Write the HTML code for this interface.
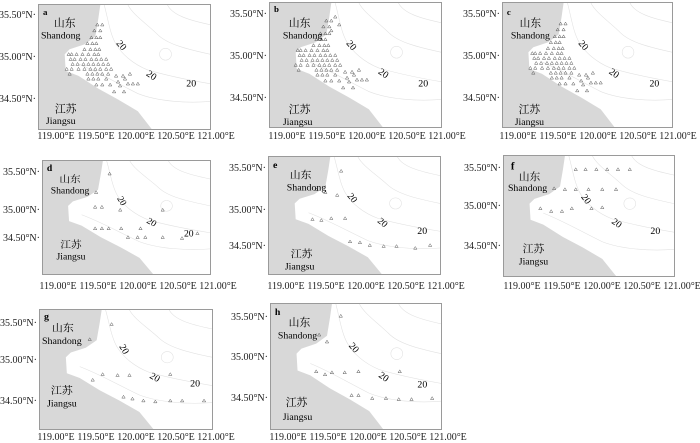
<!DOCTYPE html>
<html><head><meta charset="utf-8"><style>
body{margin:0;background:#fff;width:700px;height:442px;overflow:hidden;position:relative;font-family:"Liberation Serif","Noto Serif CJK SC",serif;}
.p{position:absolute;box-sizing:border-box;border:1px solid #9a9a9a;background:#fff;overflow:hidden}
.p svg{position:absolute;left:0;top:0;width:100%;height:100%}
.yl,.xl{position:absolute;font-size:10px;color:#222;white-space:nowrap;line-height:10px}
.yl{text-align:right;width:40px}
.xl{width:44px;text-align:center}
</style></head><body>
<svg width="0" height="0" style="position:absolute">
<defs>
<path id="t" d="M0,-1.6 L1.7,1.3 L-1.7,1.3Z" fill="none" stroke="#555" stroke-width="0.5"/>
<polygon id="land" points="0,0 62,0 60,14 57,32 46,40 31,45 26,50 27,67 40,72 60,85 80,96 100,108 114,126 0,126" fill="#d8d8d8"/>
<g id="cont" fill="none" stroke="#e2e2e2" stroke-width="0.6">
<path d="M66,0 C70,15 72,30 78,40 C84,50 95,60 110,66 C130,72 150,76 173,80"/>
<path d="M90,0 C95,10 110,20 120,30 C130,40 150,45 173,50"/>
<path d="M40,60 C60,68 80,80 100,90 C120,98 150,100 173,98"/>
<path d="M130,0 C135,10 150,15 173,20"/>
<circle cx="128" cy="50" r="6"/>
</g>
<g id="cl">
<use href="#t" x="59" y="20"/><use href="#t" x="64" y="20"/>
<use href="#t" x="56" y="26"/><use href="#t" x="62" y="26"/>
<use href="#t" x="53" y="33"/><use href="#t" x="58" y="33"/><use href="#t" x="62" y="33"/>
<use href="#t" x="49" y="39"/><use href="#t" x="54" y="39"/><use href="#t" x="58" y="39"/>
<use href="#t" x="46" y="45"/><use href="#t" x="52" y="45"/><use href="#t" x="57" y="45"/><use href="#t" x="61" y="45"/>
<use href="#t" x="30" y="50"/><use href="#t" x="33" y="50"/><use href="#t" x="38" y="50"/><use href="#t" x="44" y="50"/><use href="#t" x="50" y="50"/><use href="#t" x="56" y="50"/><use href="#t" x="60" y="50"/>
<use href="#t" x="32" y="55"/><use href="#t" x="36" y="55"/><use href="#t" x="42" y="55"/><use href="#t" x="47" y="55"/><use href="#t" x="53" y="55"/><use href="#t" x="58" y="55"/><use href="#t" x="63" y="55"/><use href="#t" x="68" y="55"/>
<use href="#t" x="34" y="60"/><use href="#t" x="39" y="60"/><use href="#t" x="45" y="60"/><use href="#t" x="50" y="60"/><use href="#t" x="55" y="60"/><use href="#t" x="60" y="60"/><use href="#t" x="65" y="60"/><use href="#t" x="70" y="60"/>
<use href="#t" x="28" y="65"/><use href="#t" x="33" y="65"/><use href="#t" x="40" y="65"/><use href="#t" x="46" y="65"/><use href="#t" x="52" y="65"/><use href="#t" x="57" y="65"/><use href="#t" x="62" y="65"/><use href="#t" x="68" y="65"/><use href="#t" x="73" y="65"/><use href="#t" x="78" y="72"/><use href="#t" x="85" y="72"/>
<use href="#t" x="31" y="70"/><use href="#t" x="49" y="70"/><use href="#t" x="54" y="70"/><use href="#t" x="59" y="70"/><use href="#t" x="64" y="70"/><use href="#t" x="70" y="70"/><use href="#t" x="92" y="70"/>
<use href="#t" x="50" y="75"/><use href="#t" x="55" y="75"/><use href="#t" x="60" y="75"/><use href="#t" x="68" y="75"/><use href="#t" x="80" y="78"/><use href="#t" x="87" y="75"/>
<use href="#t" x="58" y="81"/><use href="#t" x="64" y="81"/><use href="#t" x="72" y="81"/><use href="#t" x="82" y="82"/><use href="#t" x="90" y="80"/><use href="#t" x="95" y="80"/><use href="#t" x="100" y="80"/>
<use href="#t" x="76" y="88"/><use href="#t" x="86" y="88"/>
</g>
</defs></svg>

<!-- panel a -->
<div class="p" style="left:38px;top:4px;width:173px;height:126px"><svg viewBox="0 0 173 126" preserveAspectRatio="none">
<use href="#land"/><use href="#cont"/><use href="#cl"/>
<text x="4" y="10" font-size="9" font-weight="bold">a</text>
<text x="26" y="22" font-size="11" text-anchor="middle" font-family="Noto Serif CJK SC,serif">山东</text>
<text x="22" y="34" font-size="10" text-anchor="middle">Shandong</text>
<text x="27" y="109" font-size="11" text-anchor="middle" font-family="Noto Serif CJK SC,serif">江苏</text>
<text x="22" y="121" font-size="10" text-anchor="middle">Jiangsu</text>
<text x="81" y="43" font-size="10" transform="rotate(50 81 43)" text-anchor="middle">20</text>
<text x="112" y="74" font-size="10" transform="rotate(35 112 74)" text-anchor="middle">20</text>
<text x="154" y="83" font-size="10" text-anchor="middle">20</text>
</svg></div>

<!-- panel b -->
<div class="p" style="left:269px;top:2px;width:173px;height:126px"><svg viewBox="0 0 173 126" preserveAspectRatio="none">
<use href="#land"/><use href="#cont"/><use href="#cl" transform="translate(-2,-2)"/>
<use href="#t" x="66" y="14"/><use href="#t" x="70" y="22"/><use href="#t" x="62" y="28"/>
<text x="4" y="9" font-size="9" font-weight="bold">b</text>
<text x="30" y="24" font-size="11" text-anchor="middle" font-family="Noto Serif CJK SC,serif">山东</text>
<text x="33" y="36" font-size="10" text-anchor="middle">Shandong</text>
<text x="30" y="112" font-size="11" text-anchor="middle" font-family="Noto Serif CJK SC,serif">江苏</text>
<text x="28" y="124" font-size="10" text-anchor="middle">Jiangsu</text>
<text x="80" y="45" font-size="10" transform="rotate(50 80 45)" text-anchor="middle">20</text>
<text x="113" y="74" font-size="10" transform="rotate(35 113 74)" text-anchor="middle">20</text>
<text x="155" y="85" font-size="10" text-anchor="middle">20</text>
</svg></div>

<!-- panel c -->
<div class="p" style="left:502px;top:2px;width:171px;height:126px"><svg viewBox="0 0 173 126" preserveAspectRatio="none">
<use href="#land"/><use href="#cont"/><use href="#cl" transform="translate(0,1)"/>
<text x="4" y="12" font-size="9" font-weight="bold">c</text>
<text x="28" y="24" font-size="11" text-anchor="middle" font-family="Noto Serif CJK SC,serif">山东</text>
<text x="28" y="36" font-size="10" text-anchor="middle">Shandong</text>
<text x="27" y="112" font-size="11" text-anchor="middle" font-family="Noto Serif CJK SC,serif">江苏</text>
<text x="27" y="124" font-size="10" text-anchor="middle">Jiangsu</text>
<text x="80" y="45" font-size="10" transform="rotate(50 80 45)" text-anchor="middle">20</text>
<text x="112" y="74" font-size="10" transform="rotate(35 112 74)" text-anchor="middle">20</text>
<text x="155" y="85" font-size="10" text-anchor="middle">20</text>
</svg></div>

<!-- panel d -->
<div class="p" style="left:42px;top:160px;width:169px;height:115px"><svg viewBox="0 0 173 126" preserveAspectRatio="none">
<use href="#land"/><use href="#cont"/>
<g transform="scale(1,1.09)">
<use href="#t" x="69" y="13"/><use href="#t" x="55" y="32"/><use href="#t" x="54" y="47"/><use href="#t" x="61" y="47"/><use href="#t" x="80" y="50"/><use href="#t" x="54" y="69"/><use href="#t" x="61" y="69"/><use href="#t" x="68" y="69"/><use href="#t" x="81" y="69"/><use href="#t" x="101" y="69"/><use href="#t" x="124" y="50"/><use href="#t" x="160" y="74"/><use href="#t" x="88" y="78"/><use href="#t" x="98" y="78"/><use href="#t" x="106" y="78"/><use href="#t" x="124" y="78"/><use href="#t" x="144" y="79"/>
</g>
<text x="4" y="11" font-size="10" font-weight="bold">d</text>
<text x="28" y="24" font-size="11" text-anchor="middle" font-family="Noto Serif CJK SC,serif">山东</text>
<text x="28" y="36" font-size="10" text-anchor="middle">Shandong</text>
<text x="29" y="97" font-size="11" text-anchor="middle" font-family="Noto Serif CJK SC,serif">江苏</text>
<text x="29" y="110" font-size="10" text-anchor="middle">Jiangsu</text>
<text x="79" y="46" font-size="10" transform="rotate(60 79 46)" text-anchor="middle">20</text>
<text x="111" y="71" font-size="10" transform="rotate(30 111 71)" text-anchor="middle">20</text>
<text x="151" y="84" font-size="10" text-anchor="middle">20</text>
</svg></div>

<!-- panel e -->
<div class="p" style="left:268px;top:156px;width:173px;height:119px"><svg viewBox="0 0 173 126" preserveAspectRatio="none">
<use href="#land"/><use href="#cont"/>
<use href="#t" x="73" y="15"/><use href="#t" x="48" y="35"/><use href="#t" x="57" y="38"/><use href="#t" x="69" y="41"/><use href="#t" x="44" y="67"/><use href="#t" x="53" y="68"/><use href="#t" x="63" y="66"/><use href="#t" x="77" y="66"/><use href="#t" x="82" y="91"/><use href="#t" x="92" y="92"/><use href="#t" x="102" y="95"/><use href="#t" x="116" y="96"/><use href="#t" x="129" y="96"/><use href="#t" x="148" y="98"/><use href="#t" x="163" y="95"/>
<text x="4" y="12" font-size="10" font-weight="bold">e</text>
<text x="32" y="23" font-size="11" text-anchor="middle" font-family="Noto Serif CJK SC,serif">山东</text>
<text x="38" y="36" font-size="10" text-anchor="middle">Shandong</text>
<text x="33" y="108" font-size="11" text-anchor="middle" font-family="Noto Serif CJK SC,serif">江苏</text>
<text x="31" y="121" font-size="10" text-anchor="middle">Jiangsu</text>
<text x="82" y="46" font-size="10" transform="rotate(50 82 46)" text-anchor="middle">20</text>
<text x="113" y="73" font-size="10" transform="rotate(40 113 73)" text-anchor="middle">20</text>
<text x="155" y="83" font-size="10" text-anchor="middle">20</text>
</svg></div>

<!-- panel f -->
<div class="p" style="left:503px;top:155px;width:172px;height:122px"><svg viewBox="0 0 173 126" preserveAspectRatio="none">
<use href="#land"/><use href="#cont"/>
<use href="#t" x="73" y="14"/><use href="#t" x="83" y="14"/><use href="#t" x="94" y="14"/><use href="#t" x="105" y="14"/><use href="#t" x="116" y="14"/><use href="#t" x="128" y="14"/><use href="#t" x="51" y="34"/><use href="#t" x="62" y="35"/><use href="#t" x="73" y="35"/><use href="#t" x="86" y="35"/><use href="#t" x="100" y="35"/><use href="#t" x="114" y="35"/><use href="#t" x="37" y="55"/><use href="#t" x="48" y="58"/><use href="#t" x="59" y="58"/><use href="#t" x="69" y="55"/><use href="#t" x="89" y="55"/><use href="#t" x="100" y="54"/>
<text x="7" y="14" font-size="11" font-weight="bold">f</text>
<text x="26" y="25" font-size="11" text-anchor="middle" font-family="Noto Serif CJK SC,serif">山东</text>
<text x="24" y="37" font-size="10" text-anchor="middle">Shandong</text>
<text x="30" y="101" font-size="11" text-anchor="middle" font-family="Noto Serif CJK SC,serif">江苏</text>
<text x="30" y="114" font-size="10" text-anchor="middle">Jiangsu</text>
<text x="81" y="47" font-size="10" transform="rotate(55 81 47)" text-anchor="middle">20</text>
<text x="113" y="73" font-size="10" transform="rotate(35 113 73)" text-anchor="middle">20</text>
<text x="154" y="82" font-size="10" text-anchor="middle">20</text>
</svg></div>

<!-- panel g -->
<div class="p" style="left:39px;top:309px;width:174px;height:121px"><svg viewBox="0 0 173 126" preserveAspectRatio="none">
<use href="#land"/><use href="#cont"/>
<use href="#t" x="72" y="15"/><use href="#t" x="50" y="31"/><use href="#t" x="53" y="74"/><use href="#t" x="63" y="68"/><use href="#t" x="78" y="69"/><use href="#t" x="90" y="69"/><use href="#t" x="131" y="68"/><use href="#t" x="84" y="92"/><use href="#t" x="93" y="94"/><use href="#t" x="104" y="96"/><use href="#t" x="116" y="97"/><use href="#t" x="131" y="96"/><use href="#t" x="143" y="96"/><use href="#t" x="165" y="96"/>
<text x="4" y="10" font-size="10" font-weight="bold">g</text>
<text x="23" y="23" font-size="11" text-anchor="middle" font-family="Noto Serif CJK SC,serif">山东</text>
<text x="22" y="36" font-size="10" text-anchor="middle">Shandong</text>
<text x="22" y="89" font-size="11" text-anchor="middle" font-family="Noto Serif CJK SC,serif">江苏</text>
<text x="22" y="102" font-size="10" text-anchor="middle">Jiangsu</text>
<text x="82" y="43" font-size="10" transform="rotate(60 82 43)" text-anchor="middle">20</text>
<text x="114" y="74" font-size="10" transform="rotate(30 114 74)" text-anchor="middle">20</text>
<text x="156" y="81" font-size="10" text-anchor="middle">20</text>
</svg></div>

<!-- panel h -->
<div class="p" style="left:270px;top:303px;width:172px;height:127px"><svg viewBox="0 0 173 126" preserveAspectRatio="none">
<use href="#land"/><use href="#cont"/>
<use href="#t" x="71" y="12"/><use href="#t" x="49" y="31"/><use href="#t" x="57" y="38"/><use href="#t" x="46" y="68"/><use href="#t" x="55" y="71"/><use href="#t" x="62" y="69"/><use href="#t" x="75" y="69"/><use href="#t" x="89" y="68"/><use href="#t" x="131" y="68"/><use href="#t" x="82" y="92"/><use href="#t" x="89" y="92"/><use href="#t" x="103" y="95"/><use href="#t" x="117" y="95"/><use href="#t" x="130" y="96"/><use href="#t" x="143" y="96"/><use href="#t" x="164" y="95"/>
<text x="4" y="11" font-size="10" font-weight="bold">h</text>
<text x="29" y="22" font-size="11" text-anchor="middle" font-family="Noto Serif CJK SC,serif">山东</text>
<text x="27" y="35" font-size="10" text-anchor="middle">Shandong</text>
<text x="26" y="103" font-size="11" text-anchor="middle" font-family="Noto Serif CJK SC,serif">江苏</text>
<text x="27" y="117" font-size="10" text-anchor="middle">Jiangsu</text>
<text x="82" y="46" font-size="10" transform="rotate(50 82 46)" text-anchor="middle">20</text>
<text x="113" y="76" font-size="10" transform="rotate(35 113 76)" text-anchor="middle">20</text>
<text x="154" y="84" font-size="10" text-anchor="middle">20</text>
</svg></div>

<!-- y labels -->
<div class="yl" style="left:-4px;top:11px">35.50°N·</div><div class="yl" style="left:-4px;top:53px">35.00°N·</div><div class="yl" style="left:-4px;top:95px">34.50°N·</div>
<div class="yl" style="left:227px;top:10px">35.50°N·</div><div class="yl" style="left:227px;top:52px">35.00°N·</div><div class="yl" style="left:227px;top:94px">34.50°N·</div>
<div class="yl" style="left:460px;top:10px">35.50°N·</div><div class="yl" style="left:460px;top:52px">35.00°N·</div><div class="yl" style="left:460px;top:94px">34.50°N·</div>
<div class="yl" style="left:0px;top:168px">35.50°N·</div><div class="yl" style="left:0px;top:206px">35.00°N·</div><div class="yl" style="left:0px;top:234px">34.50°N·</div>
<div class="yl" style="left:226px;top:164px">35.50°N·</div><div class="yl" style="left:226px;top:206px">35.00°N·</div><div class="yl" style="left:226px;top:242px">34.50°N·</div>
<div class="yl" style="left:461px;top:164px">35.50°N·</div><div class="yl" style="left:461px;top:202px">35.00°N·</div><div class="yl" style="left:461px;top:242px">34.50°N·</div>
<div class="yl" style="left:-3px;top:319px">35.50°N·</div><div class="yl" style="left:-3px;top:356px">35.00°N·</div><div class="yl" style="left:-3px;top:397px">34.50°N·</div>
<div class="yl" style="left:228px;top:313px">35.50°N·</div><div class="yl" style="left:228px;top:353px">35.00°N·</div><div class="yl" style="left:228px;top:394px">34.50°N·</div>

<!-- x labels -->
<div class="xl" style="left:34px;top:132px">119.00°E</div><div class="xl" style="left:74px;top:132px">119.50°E</div><div class="xl" style="left:114px;top:132px">120.00°E</div><div class="xl" style="left:154px;top:132px">120.50°E</div><div class="xl" style="left:194px;top:132px">121.00°E</div>
<div class="xl" style="left:265px;top:132px">119.00°E</div><div class="xl" style="left:305px;top:132px">119.50°E</div><div class="xl" style="left:345px;top:132px">120.00°E</div><div class="xl" style="left:385px;top:132px">120.50°E</div><div class="xl" style="left:425px;top:132px">121.00°E</div>
<div class="xl" style="left:496px;top:132px">119.00°E</div><div class="xl" style="left:536px;top:132px">119.50°E</div><div class="xl" style="left:576px;top:132px">120.00°E</div><div class="xl" style="left:616px;top:132px">120.50°E</div><div class="xl" style="left:656px;top:132px">121.00°E</div>
<div class="xl" style="left:36px;top:282px">119.00°E</div><div class="xl" style="left:76px;top:282px">119.50°E</div><div class="xl" style="left:116px;top:282px">120.00°E</div><div class="xl" style="left:156px;top:282px">120.50°E</div><div class="xl" style="left:196px;top:282px">121.00°E</div>
<div class="xl" style="left:264px;top:282px">119.00°E</div><div class="xl" style="left:304px;top:282px">119.50°E</div><div class="xl" style="left:344px;top:282px">120.00°E</div><div class="xl" style="left:384px;top:282px">120.50°E</div><div class="xl" style="left:424px;top:282px">121.00°E</div>
<div class="xl" style="left:500px;top:282px">119.00°E</div><div class="xl" style="left:540px;top:282px">119.50°E</div><div class="xl" style="left:580px;top:282px">120.00°E</div><div class="xl" style="left:620px;top:282px">120.50°E</div><div class="xl" style="left:660px;top:282px">121.00°E</div>
<div class="xl" style="left:34px;top:433px">119.00°E</div><div class="xl" style="left:74px;top:433px">119.50°E</div><div class="xl" style="left:114px;top:433px">120.00°E</div><div class="xl" style="left:154px;top:433px">120.50°E</div><div class="xl" style="left:194px;top:433px">121.00°E</div>
<div class="xl" style="left:266px;top:433px">119.00°E</div><div class="xl" style="left:306px;top:433px">119.50°E</div><div class="xl" style="left:346px;top:433px">120.00°E</div><div class="xl" style="left:386px;top:433px">120.50°E</div><div class="xl" style="left:426px;top:433px">121.00°E</div>
</body></html>
